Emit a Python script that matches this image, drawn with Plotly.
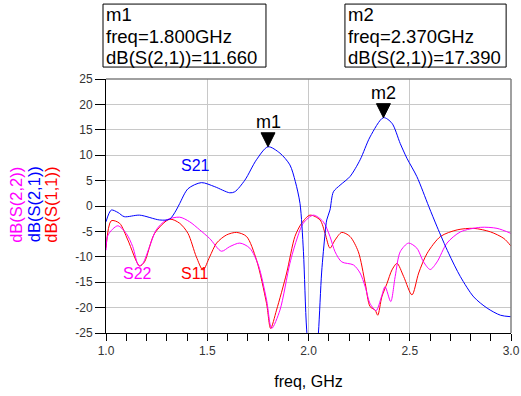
import plotly.graph_objects as go

# S21 (blue)
s21_f = [1.0, 1.026, 1.06, 1.09, 1.166, 1.265, 1.314, 1.347, 1.364, 1.405, 1.471, 1.537, 1.611, 1.636,
         1.686, 1.743, 1.80, 1.859, 1.908, 1.935, 1.958, 1.975, 1.991, 2.015, 2.03, 2.049, 2.065, 2.082,
         2.09, 2.106, 2.123, 2.156, 2.205, 2.255, 2.304, 2.37, 2.412, 2.453, 2.486, 2.535, 2.594,
         2.635, 2.692, 2.75, 2.816, 2.882, 2.948, 3.0]
s21_db = [-3.1, -0.8, -1.3, -2.1, -1.8, -2.75, -2.6, -0.8, 0.5, 3.4, 4.6, 3.8, 2.6, 2.8,
          5.1, 9.1, 11.66, 10.4, 8.1, 4.8, 0.5, -9.0, -24.4, -34.0, -34.0, -25.0, -13.0, -5.4,
          -2.75, -0.8, 2.8, 4.1, 5.8, 9.1, 13.6, 17.39, 16.3, 12.3, 9.4, 5.8, -0.1,
          -4.1, -9.3, -13.9, -17.9, -20.1, -21.5, -21.8]

# S11 (red)
s11_f = [1.0, 1.026, 1.067, 1.108, 1.166, 1.19, 1.24, 1.314, 1.364, 1.405, 1.446, 1.479, 1.512, 1.546,
         1.595, 1.645, 1.694, 1.743, 1.793, 1.813, 1.842, 1.892, 1.933, 1.966, 2.007, 2.057, 2.082,
         2.106, 2.131, 2.164, 2.205, 2.246, 2.28, 2.304, 2.329, 2.342, 2.362, 2.388, 2.412, 2.437,
         2.47, 2.511, 2.544, 2.586, 2.652, 2.734, 2.816, 2.899, 2.965, 3.0]
s11_db = [-8.2, -2.9, -3.4, -6.7, -11.8, -11.0, -5.4, -2.6, -3.4, -5.4, -10.0, -12.6, -10.0, -7.3,
          -5.7, -5.2, -6.0, -10.6, -19.2, -24.1, -20.5, -13.2, -6.0, -3.4, -1.8, -2.75, -5.4,
          -8.3, -6.7, -5.2, -6.0, -9.0, -15.2, -19.8, -20.5, -21.5, -17.9, -15.2, -12.6, -11.3,
          -13.9, -17.5, -13.2, -9.3, -6.0, -4.7, -4.4, -5.1, -6.4, -7.9]

# S22 (magenta)
s22_f = [1.0, 1.01, 1.058, 1.1, 1.132, 1.162, 1.182, 1.215, 1.248, 1.298, 1.364, 1.413, 1.463, 1.512,
         1.57, 1.611, 1.661, 1.71, 1.752, 1.793, 1.818, 1.859, 1.908, 1.941, 1.974, 2.024, 2.073,
         2.106, 2.131, 2.164, 2.222, 2.255, 2.28, 2.304, 2.334, 2.36, 2.378, 2.406, 2.428, 2.453,
         2.494, 2.535, 2.568, 2.601, 2.635, 2.684, 2.75, 2.849, 2.931, 3.0]
s22_db = [-8.7, -5.7, -3.9, -5.4, -8.0, -11.8, -11.3, -8.0, -4.7, -2.75, -2.2, -3.1, -4.7, -6.4,
          -8.9, -8.0, -7.3, -8.3, -11.6, -18.5, -24.1, -20.5, -11.3, -6.7, -3.4, -1.8, -3.1,
          -6.0, -9.0, -11.0, -11.6, -13.2, -15.9, -19.2, -20.6, -17.9, -15.9, -18.8, -13.9, -9.0,
          -7.3, -8.3, -11.0, -12.5, -11.0, -7.3, -5.1, -4.2, -4.4, -5.4]

x_ticks = [1.0, 1.5, 2.0, 2.5, 3.0]
y_ticks = [25, 20, 15, 10, 5, 0, -5, -10, -15, -20, -25]

markers = ["m1", "m2"]
marker_f = [1.800, 2.370]
marker_db = [11.660, 17.390]

curve_labels = ["S21", "S22", "S11"]
label_f = [1.44, 1.155, 1.435]
label_db = [8.0, -13.3, -13.3]

y_titles = ["dB(S(2,2))", "dB(S(2,1))", "dB(S(1,1))"]

BLUE = "#0000ff"
RED = "#ff0000"
MAG = "#ff00ff"
FONT = "Liberation Sans, Arial, sans-serif"

fig = go.Figure()
fig.add_trace(go.Scatter(x=s11_f, y=s11_db, mode="lines", line=dict(color=RED, width=1, shape="spline", smoothing=0.8)))
fig.add_trace(go.Scatter(x=s22_f, y=s22_db, mode="lines", line=dict(color=MAG, width=1, shape="spline", smoothing=0.8)))
fig.add_trace(go.Scatter(x=s21_f, y=s21_db, mode="lines", line=dict(color=BLUE, width=1, shape="spline", smoothing=0.8)))

# marker triangles and labels
for name, f, v in zip(markers, marker_f, marker_db):
    fig.add_shape(type="path", xref="x", yref="y", xsizemode="pixel", ysizemode="pixel",
                  xanchor=f, yanchor=v, path="M-7,14 L7,14 L0,0 Z",
                  fillcolor="black", line=dict(color="black", width=1))
    fig.add_annotation(x=f, y=v, text=name, showarrow=False, yanchor="bottom", yshift=13,
                       font=dict(family=FONT, size=18, color="black"))

# curve labels
for t, f, v, c in zip(curve_labels, label_f, label_db, [BLUE, MAG, RED]):
    fig.add_annotation(x=f, y=v, text=t, showarrow=False, font=dict(family=FONT, size=16, color=c))

# marker readout boxes: frame + three text lines each
box_x0 = [-0.0074, 0.590]
box_x1 = [0.395, 0.988]
line_y = [1.252, 1.167, 1.086]
for name, f, v, x0, x1 in zip(markers, marker_f, marker_db, box_x0, box_x1):
    fig.add_shape(type="rect", xref="paper", yref="paper", x0=x0, x1=x1, y0=1.047, y1=1.295,
                  line=dict(color="black", width=1), fillcolor="white")
    lines = [name, f"freq={f:.3f}GHz", f"dB(S(2,1))={v:.3f}"]
    for txt, ly in zip(lines, line_y):
        fig.add_annotation(xref="paper", yref="paper", x=x0 + 0.006, y=ly, xanchor="left", yanchor="middle",
                           text=txt, showarrow=False, borderpad=0,
                           font=dict(family=FONT, size=18.5, color="black"))

# y axis title (three coloured rotated lines)
for txt, xp, c in zip(y_titles, [-0.222, -0.179, -0.136], [MAG, BLUE, RED]):
    fig.add_annotation(xref="paper", yref="paper", x=xp, y=0.505, xanchor="center", yanchor="middle",
                       textangle=-90, showarrow=False, text=txt, borderpad=0,
                       font=dict(family=FONT, size=16.5, color=c))

# top and right frame lines
fig.add_shape(type="line", xref="paper", yref="paper", x0=0, x1=1, y0=1, y1=1, line=dict(color="#808080", width=1.5))
fig.add_shape(type="line", xref="paper", yref="paper", x0=1, x1=1, y0=0, y1=1, line=dict(color="#808080", width=1.5))

fig.update_layout(
    width=521, height=396, margin=dict(l=106, r=10, t=79, b=63, autoexpand=False),
    paper_bgcolor="white", plot_bgcolor="white", showlegend=False,
    font=dict(family=FONT, size=12, color="#333333"),
    xaxis=dict(range=[1, 3], tickvals=x_ticks, ticktext=[f"{t:.1f}" for t in x_ticks], automargin=False,
               showgrid=True, gridcolor="#c8c8c8", gridwidth=1, zeroline=False,
               showline=True, linecolor="black", linewidth=1, ticks="outside", ticklen=7, tickcolor="black",
               minor=dict(dtick=0.1, ticks="outside", ticklen=7, tickcolor="black", showgrid=False),
               title=dict(text="freq, GHz", font=dict(size=16, color="black"), standoff=18),
               tickfont=dict(size=12, color="#333333")),
    yaxis=dict(range=[-25, 25], tickvals=y_ticks, ticktext=[str(t) for t in y_ticks], automargin=False,
               showgrid=True, gridcolor="#c8c8c8", gridwidth=1, zeroline=False,
               showline=True, linecolor="black", linewidth=1, ticks="outside", ticklen=10, tickcolor="black",
               tickfont=dict(size=12, color="#333333")),
)

fig.write_html("out.html")
